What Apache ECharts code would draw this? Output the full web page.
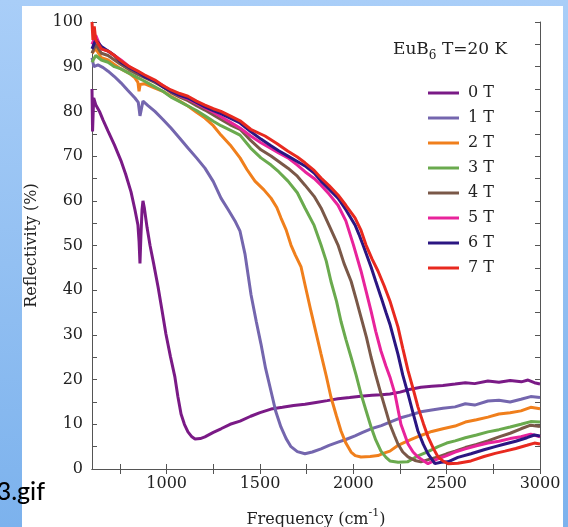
<!DOCTYPE html>
<html>
<head>
<meta charset="utf-8">
<script src="https://cdn.jsdelivr.net/npm/echarts@6/dist/echarts.min.js"></script>
<style>
  html, body { margin: 0; padding: 0; }
  body { width: 568px; height: 527px; overflow: hidden; position: relative;
         background: linear-gradient(180deg, #a9cef8 0%, #93c0f2 50%, #7cb2ed 100%); }
  #panel { position: absolute; left: 22px; top: 6px; width: 541px; height: 521px; background: #ffffff; }
  #chart { position: absolute; left: 0; top: 0; width: 568px; height: 527px; }
</style>
</head>
<body>
<div id="panel"></div>
<div id="chart"></div>
<script>
// ---- data ----
const seriesNames = ['0 T', '1 T', '2 T', '3 T', '4 T', '5 T', '6 T', '7 T'];
const seriesColors = ['#7a1a86', '#7466ae', '#f07f1c', '#6aaa4e', '#7a5848', '#e8239b', '#2b1682', '#e8291f'];
const xTickValues = [750, 1000, 1250, 1500, 1750, 2000, 2250, 2500, 2750, 3000];
const xLabelValues = [1000, 1500, 2000, 2500, 3000];
const yTickValues = [0, 5, 10, 15, 20, 25, 30, 35, 40, 45, 50, 55, 60, 65, 70, 75, 80, 85, 90, 95, 100];
const yLabelValues = [0, 10, 20, 30, 40, 50, 60, 70, 80, 90, 100];

const t0 = [[600,85],[603,75.5],[609,83],[620,81.5],[640,80],[660,78],[686,75.6],[720,72.5],[755,69],[780,66],[809,62],[830,58],[846,54.6],[852,51],[857,46],[862,52],[868,58],[873,60],[880,58.5],[895,54],[911,50],[930,46],[954,40.7],[975,35.5],[996,30.2],[1020,25.2],[1044,20.6],[1060,16.2],[1077,12.3],[1095,10],[1114,8.3],[1135,7.2],[1152,6.7],[1180,6.8],[1205,7.2],[1250,8.2],[1291,9],[1340,10],[1393,10.7],[1450,11.8],[1500,12.6],[1559,13.4],[1620,13.8],[1680,14.2],[1741,14.5],[1800,14.9],[1860,15.3],[1918,15.7],[1980,16],[2040,16.3],[2100,16.5],[2150,16.6],[2196,16.8],[2250,17.2],[2300,17.8],[2362,18.3],[2420,18.5],[2480,18.7],[2545,19],[2600,19.3],[2650,19.1],[2721,19.7],[2780,19.4],[2840,19.8],[2900,19.5],[2936,19.9],[2970,19.3],[3000,19]];
const t1 = [[600,92],[610,90],[632,90.4],[660,89.8],[686,89],[720,87.8],[755,86.4],[790,84.8],[830,83],[848,82],[857,79],[862,80],[873,82.3],[900,81.3],[937,80],[980,78.2],[1023,76.3],[1070,74],[1114,71.8],[1160,69.6],[1205,67.3],[1250,64.3],[1291,60.6],[1330,58],[1366,55.5],[1393,53.2],[1420,48],[1452,39],[1480,33],[1505,28],[1530,22.5],[1559,17.4],[1585,12.8],[1612,9.4],[1640,6.8],[1666,5],[1700,3.9],[1741,3.4],[1780,3.8],[1827,4.5],[1870,5.3],[1918,6],[1960,6.6],[2009,7.4],[2050,8.2],[2095,9],[2150,9.7],[2196,10.5],[2250,11.4],[2300,12],[2362,12.8],[2420,13.2],[2480,13.6],[2545,13.9],[2600,14.6],[2650,14.3],[2721,15.2],[2780,15.4],[2840,15],[2898,15.6],[2950,16.2],[3000,16]];
const t2 = [[600,93],[620,94],[650,92],[686,91.5],[720,90.5],[755,89.5],[800,88.5],[830,87.5],[846,86.5],[852,84.5],[858,86],[880,86.2],[937,85.2],[980,84.5],[1023,83.4],[1070,82.3],[1114,81.2],[1160,79.8],[1205,78.5],[1250,76.8],[1291,74.7],[1340,72.5],[1393,69.6],[1430,67],[1473,64.4],[1520,62.5],[1559,60.6],[1590,58.5],[1612,56.2],[1640,53.5],[1666,50.1],[1690,47.8],[1720,45.2],[1745,40.5],[1773,35.3],[1800,30.5],[1827,25.7],[1855,20.8],[1880,16.1],[1910,11.8],[1934,8.5],[1960,5.8],[1988,3.8],[2010,3],[2041,2.7],[2090,2.8],[2132,3],[2160,3.5],[2196,4],[2240,5.3],[2277,6],[2320,6.8],[2362,7.5],[2420,8.4],[2480,9],[2545,9.6],[2600,10.5],[2660,11],[2721,11.6],[2780,12.3],[2840,12.6],[2898,13],[2950,13.8],[3000,13.5]];
const t3 = [[600,91],[620,92.5],[650,91.5],[686,91],[720,90],[755,89.5],[800,88.5],[846,87.5],[880,86.8],[937,85.5],[980,84.5],[1023,83.2],[1070,82.2],[1114,81.2],[1160,80.2],[1205,79],[1250,77.8],[1291,76.8],[1340,75.8],[1393,74.7],[1450,71.8],[1505,69.6],[1559,68],[1600,66.5],[1650,64.4],[1700,61.8],[1741,58.4],[1790,54.5],[1827,50.1],[1855,46.5],[1880,42],[1910,37.5],[1934,33],[1960,29],[1988,25],[2015,21],[2041,16.8],[2070,12.8],[2095,9.4],[2120,6.5],[2148,4],[2175,2.6],[2196,1.8],[2240,1.5],[2290,1.6],[2340,2.8],[2400,3.9],[2454,5],[2500,5.8],[2545,6.3],[2600,7],[2660,7.6],[2721,8.3],[2780,8.8],[2840,9.4],[2898,10],[2950,10.6],[3000,10.5]];
const t4 = [[600,93],[620,95],[650,93],[686,92.5],[755,90.5],[800,89.3],[846,88.3],[880,87.6],[937,86.5],[980,85.5],[1023,84.2],[1070,83.2],[1114,82.4],[1160,81.3],[1205,80.3],[1250,79.2],[1291,78.2],[1340,77],[1393,76],[1450,73.5],[1505,71.4],[1559,70],[1600,68.8],[1650,67.3],[1700,65.5],[1741,63.5],[1790,61],[1827,58.4],[1870,54.5],[1918,50.1],[1950,46],[1988,42],[2015,38],[2041,34],[2070,29.5],[2095,25],[2120,21],[2148,16.8],[2175,13],[2196,10],[2220,7.5],[2239,5.6],[2265,3.8],[2293,2.7],[2330,1.9],[2362,1.6],[2410,2.2],[2454,2.7],[2500,3.4],[2545,4],[2600,4.8],[2660,5.5],[2721,6.3],[2780,7.2],[2840,8],[2898,9],[2950,9.8],[3000,9.5]];
const t5 = [[600,95],[620,97],[650,94],[686,93.5],[755,91.5],[800,90],[846,88.8],[880,88],[937,86.8],[980,85.8],[1023,84.5],[1070,83.5],[1114,82.8],[1160,81.8],[1205,80.8],[1250,79.8],[1291,78.8],[1340,77.6],[1393,76.3],[1450,74.5],[1505,73],[1559,71.7],[1600,70.7],[1650,69.6],[1700,68],[1741,66.5],[1790,65],[1827,63.5],[1870,61.5],[1918,59],[1960,55.5],[2000,50.2],[2041,44.3],[2070,39.5],[2095,35.3],[2120,30.8],[2148,26.4],[2175,23],[2196,20.6],[2223,16.8],[2255,10],[2293,5.6],[2320,3.8],[2346,2.7],[2400,1.2],[2454,2.3],[2500,3],[2545,3.8],[2600,4.5],[2660,5.2],[2721,5.8],[2780,6.2],[2840,6.8],[2898,7.2],[2950,7.8],[3000,7.2]];
const t6 = [[600,94],[620,96],[650,94.5],[686,93.5],[720,92.5],[755,91],[800,89.8],[846,88.8],[880,87.8],[937,86.8],[980,85.5],[1023,84.5],[1070,83.6],[1114,83],[1160,82],[1205,81],[1250,80.2],[1291,79.5],[1340,78.5],[1393,77.4],[1450,75.5],[1505,73.8],[1559,72.3],[1600,71.2],[1650,70],[1700,68.8],[1741,67.8],[1790,66.2],[1827,64.4],[1870,62.6],[1918,60.6],[1960,58],[2009,54.6],[2030,52.5],[2052,50.1],[2095,45.2],[2120,42],[2148,38.5],[2175,35],[2196,32.4],[2239,25.7],[2265,21],[2293,16.8],[2320,12.5],[2346,8.5],[2375,5.5],[2400,3.4],[2437,1.2],[2470,1.5],[2507,1.6],[2560,2.6],[2630,3.4],[2700,4.3],[2760,5],[2812,5.6],[2870,6.2],[2930,7],[2970,7.6],[3000,7.4]];
const t7 = [[600,100],[605,96],[612,99],[620,96],[635,95],[650,94],[686,93.5],[720,92.5],[755,91.3],[800,90],[846,89],[880,88.2],[937,87],[980,85.8],[1023,84.8],[1070,84],[1114,83.4],[1160,82.3],[1205,81.4],[1250,80.6],[1291,80],[1340,79],[1393,77.9],[1450,76],[1527,74.5],[1590,72.8],[1650,71.1],[1700,69.8],[1741,68.5],[1790,66.8],[1827,65.1],[1870,63.4],[1918,61.3],[1960,59],[2009,56.2],[2040,53.5],[2068,50.1],[2100,47],[2132,44.3],[2165,41],[2196,37.6],[2239,31.8],[2265,27],[2293,22],[2320,18],[2346,13.9],[2375,10.2],[2400,7.2],[2430,4.5],[2454,2.7],[2480,1.8],[2507,1.2],[2560,1.3],[2630,1.8],[2700,2.8],[2760,3.5],[2812,4],[2870,4.6],[2930,5.3],[2970,5.8],[3000,5.6]];
const allSeries = [t0, t1, t2, t3, t4, t5, t6, t7];

// ---- chart ----
const SERIF = '"DejaVu Serif", serif';
const axisLineStyle = { color: '#555', width: 1 };
const plainNumber = v => String(v);
const chart = echarts.init(document.getElementById('chart'), null, { renderer: 'canvas' });

const option = {
  animation: false,
  color: seriesColors,
  grid: { left: 92, right: 28, top: 22, bottom: 58, containLabel: false, outerBoundsMode: 'none' },
  legend: {
    orient: 'vertical',
    left: 423, top: 80,
    icon: 'rect', itemWidth: 31, itemHeight: 3, itemGap: 9,
    textStyle: { fontFamily: SERIF, fontSize: 16, color: '#222', lineHeight: 16, padding: [0, 0, 0, 4] },
    data: seriesNames
  },
  xAxis: [
    {
      type: 'value', min: 600, max: 3000, position: 'bottom',
      axisLine: { lineStyle: axisLineStyle },
      axisTick: { inside: true, length: 5, lineStyle: axisLineStyle, customValues: xTickValues },
      axisLabel: { customValues: xLabelValues, formatter: plainNumber, fontFamily: SERIF, fontSize: 16, color: '#222', margin: 7 },
      splitLine: { show: false },
      name: '{a|Frequency (cm}{s|-1}{a|)}',
      nameLocation: 'middle', nameGap: 39,
      nameTextStyle: {
        rich: {
          a: { fontFamily: SERIF, fontSize: 16, color: '#222', lineHeight: 20, verticalAlign: 'bottom' },
          s: { fontFamily: SERIF, fontSize: 11, color: '#222', lineHeight: 20, verticalAlign: 'top' }
        }
      }
    },
    {
      type: 'value', min: 600, max: 3000, position: 'top',
      axisLine: { lineStyle: axisLineStyle },
      axisTick: { inside: true, length: 5, lineStyle: axisLineStyle, customValues: xTickValues },
      axisLabel: { show: false },
      splitLine: { show: false }
    }
  ],
  yAxis: [
    {
      type: 'value', min: 0, max: 100, position: 'left',
      axisLine: { show: true, lineStyle: axisLineStyle },
      axisTick: { show: true, inside: true, length: 5, lineStyle: axisLineStyle, customValues: yTickValues },
      axisLabel: { customValues: yLabelValues, formatter: plainNumber, fontFamily: SERIF, fontSize: 16, color: '#222', margin: 9 },
      splitLine: { show: false },
      name: 'Reflectivity (%)',
      nameLocation: 'middle', nameGap: 52,
      nameTextStyle: { fontFamily: SERIF, fontSize: 16, color: '#222' }
    },
    {
      type: 'value', min: 0, max: 100, position: 'right',
      axisLine: { show: true, lineStyle: axisLineStyle },
      axisTick: { show: true, inside: true, length: 5, lineStyle: axisLineStyle, customValues: yTickValues },
      axisLabel: { show: false },
      splitLine: { show: false }
    }
  ],
  graphic: [
    {
      type: 'text', left: 393, top: 41,
      style: {
        text: '{a|EuB}{s|6}{a| T=20 K}',
        rich: {
          a: { fontFamily: SERIF, fontSize: 17, fill: '#222', lineHeight: 24, verticalAlign: 'middle' },
          s: { fontFamily: SERIF, fontSize: 12, fill: '#222', lineHeight: 14, verticalAlign: 'bottom' }
        }
      }
    },
    {
      type: 'text', right: 523, top: 479,
      style: { text: '3.gif', fontFamily: 'Lato, "Open Sans", sans-serif', fontSize: 25, fontWeight: 500, fill: '#000' }
    }
  ],
  series: allSeries.map((d, i) => ({
    name: seriesNames[i],
    type: 'line',
    data: d,
    xAxisIndex: 0, yAxisIndex: 0,
    showSymbol: false,
    symbol: 'none',
    lineStyle: { width: 3, color: seriesColors[i] },
    itemStyle: { color: seriesColors[i] },
    emphasis: { disabled: true }
  }))
};
chart.setOption(option);
</script>
</body>
</html>
